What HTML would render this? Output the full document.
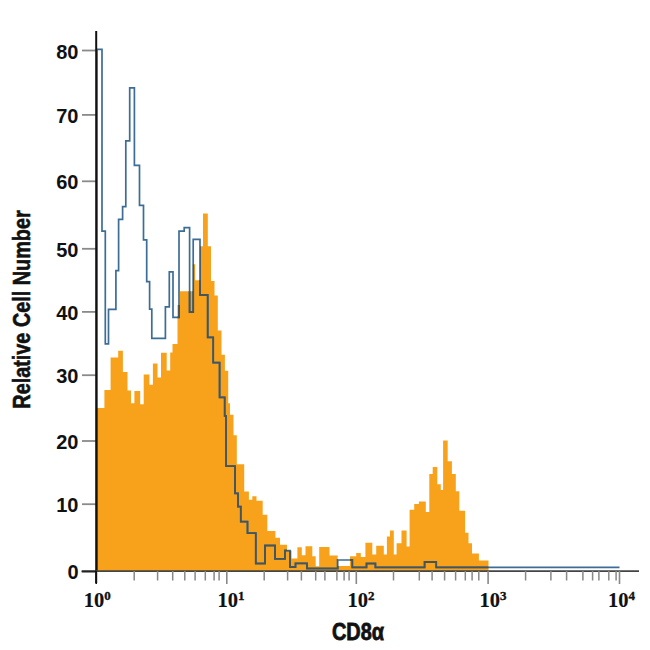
<!DOCTYPE html>
<html><head><meta charset="utf-8"><style>
html,body{margin:0;padding:0;background:#fff;}
svg{display:block;}
.yl{font-family:"Liberation Sans",sans-serif;font-weight:bold;font-size:20px;fill:#111;}
.xl{font-family:"Liberation Serif",serif;font-weight:bold;font-size:20.5px;fill:#111;stroke:#111;stroke-width:0.15px;}
.sup{font-size:13px;stroke-width:0.35px;}
.tt{font-family:"Liberation Sans",sans-serif;font-weight:bold;fill:#111;stroke:#111;stroke-width:0.6px;}
</style></head><body>
<svg width="650" height="650" viewBox="0 0 650 650">
<rect width="650" height="650" fill="#fff"/>
<path d="M96.5,571.0 L96.5,408.0 L104.4,408.0 L104.4,390.0 L110.6,390.0 L110.6,357.5 L118.2,357.5 L118.2,350.7 L122.9,350.7 L122.9,372.0 L127.5,372.0 L127.5,390.4 L131.0,390.4 L131.0,403.3 L134.4,403.3 L134.4,391.0 L140.2,391.0 L140.2,404.2 L143.7,404.2 L143.7,374.5 L149.4,374.5 L149.4,384.7 L152.9,384.7 L152.9,363.6 L157.5,363.6 L157.5,377.5 L161.0,377.5 L161.0,352.8 L166.7,352.8 L166.7,370.5 L170.2,370.5 L170.2,352.5 L172.5,352.5 L172.5,344.0 L177.5,344.0 L177.5,305.0 L180.0,305.0 L180.0,291.2 L192.9,291.2 L192.9,264.3 L195.2,264.3 L195.2,280.3 L200.2,280.3 L200.2,246.2 L203.0,246.2 L203.0,213.4 L207.8,213.4 L207.8,246.2 L211.0,246.2 L211.0,281.0 L214.5,281.0 L214.5,295.5 L217.8,295.5 L217.8,330.4 L221.5,330.4 L221.5,354.7 L224.9,354.7 L224.9,370.8 L228.2,370.8 L228.2,403.2 L230.0,403.2 L230.0,414.7 L233.5,414.7 L233.5,435.2 L236.8,435.2 L236.8,464.3 L244.2,464.3 L244.2,491.6 L248.9,491.6 L248.9,499.7 L252.3,499.7 L252.3,496.2 L256.5,496.2 L256.5,500.8 L262.7,500.8 L262.7,514.7 L267.3,514.7 L267.3,530.9 L275.4,530.9 L275.4,537.8 L280.0,537.8 L280.0,544.7 L287.0,544.7 L287.0,550.5 L291.6,550.5 L291.6,558.6 L297.4,558.6 L297.4,547.3 L301.8,547.3 L301.8,555.3 L305.5,555.3 L305.5,546.2 L312.3,546.2 L312.3,556.2 L315.7,556.2 L315.7,566.2 L319.2,566.2 L319.2,546.9 L329.5,546.9 L329.5,555.4 L337.7,555.4 L337.7,566.0 L350.0,566.0 L350.0,556.2 L356.2,556.2 L356.2,553.1 L360.8,553.1 L360.8,556.9 L365.4,556.9 L365.4,542.8 L372.3,542.8 L372.3,554.6 L376.2,554.6 L376.2,545.8 L383.8,545.8 L383.8,554.6 L386.9,554.6 L386.9,536.6 L390.0,536.6 L390.0,530.5 L393.8,530.5 L393.8,554.6 L396.6,554.6 L396.6,543.2 L401.5,543.2 L401.5,530.5 L406.6,530.5 L406.6,546.6 L409.6,546.6 L409.6,509.7 L414.2,509.7 L414.2,503.9 L418.9,503.9 L418.9,501.6 L425.8,501.6 L425.8,512.0 L429.3,512.0 L429.3,473.9 L432.7,473.9 L432.7,467.0 L437.3,467.0 L437.3,484.3 L440.8,484.3 L440.8,490.0 L443.1,490.0 L443.1,440.4 L447.7,440.4 L447.7,461.2 L451.9,461.2 L451.9,473.9 L455.8,473.9 L455.8,491.2 L459.3,491.2 L459.3,510.8 L465.1,510.8 L465.1,532.8 L468.5,532.8 L468.5,543.2 L472.0,543.2 L472.0,553.6 L478.9,553.6 L478.9,560.5 L488.5,560.5 L488.5,571.0 Z" fill="#F8A21C"/>
<defs><clipPath id="oc"><path d="M96.5,571.0 L96.5,408.0 L104.4,408.0 L104.4,390.0 L110.6,390.0 L110.6,357.5 L118.2,357.5 L118.2,350.7 L122.9,350.7 L122.9,372.0 L127.5,372.0 L127.5,390.4 L131.0,390.4 L131.0,403.3 L134.4,403.3 L134.4,391.0 L140.2,391.0 L140.2,404.2 L143.7,404.2 L143.7,374.5 L149.4,374.5 L149.4,384.7 L152.9,384.7 L152.9,363.6 L157.5,363.6 L157.5,377.5 L161.0,377.5 L161.0,352.8 L166.7,352.8 L166.7,370.5 L170.2,370.5 L170.2,352.5 L172.5,352.5 L172.5,344.0 L177.5,344.0 L177.5,305.0 L180.0,305.0 L180.0,291.2 L192.9,291.2 L192.9,264.3 L195.2,264.3 L195.2,280.3 L200.2,280.3 L200.2,246.2 L203.0,246.2 L203.0,213.4 L207.8,213.4 L207.8,246.2 L211.0,246.2 L211.0,281.0 L214.5,281.0 L214.5,295.5 L217.8,295.5 L217.8,330.4 L221.5,330.4 L221.5,354.7 L224.9,354.7 L224.9,370.8 L228.2,370.8 L228.2,403.2 L230.0,403.2 L230.0,414.7 L233.5,414.7 L233.5,435.2 L236.8,435.2 L236.8,464.3 L244.2,464.3 L244.2,491.6 L248.9,491.6 L248.9,499.7 L252.3,499.7 L252.3,496.2 L256.5,496.2 L256.5,500.8 L262.7,500.8 L262.7,514.7 L267.3,514.7 L267.3,530.9 L275.4,530.9 L275.4,537.8 L280.0,537.8 L280.0,544.7 L287.0,544.7 L287.0,550.5 L291.6,550.5 L291.6,558.6 L297.4,558.6 L297.4,547.3 L301.8,547.3 L301.8,555.3 L305.5,555.3 L305.5,546.2 L312.3,546.2 L312.3,556.2 L315.7,556.2 L315.7,566.2 L319.2,566.2 L319.2,546.9 L329.5,546.9 L329.5,555.4 L337.7,555.4 L337.7,566.0 L350.0,566.0 L350.0,556.2 L356.2,556.2 L356.2,553.1 L360.8,553.1 L360.8,556.9 L365.4,556.9 L365.4,542.8 L372.3,542.8 L372.3,554.6 L376.2,554.6 L376.2,545.8 L383.8,545.8 L383.8,554.6 L386.9,554.6 L386.9,536.6 L390.0,536.6 L390.0,530.5 L393.8,530.5 L393.8,554.6 L396.6,554.6 L396.6,543.2 L401.5,543.2 L401.5,530.5 L406.6,530.5 L406.6,546.6 L409.6,546.6 L409.6,509.7 L414.2,509.7 L414.2,503.9 L418.9,503.9 L418.9,501.6 L425.8,501.6 L425.8,512.0 L429.3,512.0 L429.3,473.9 L432.7,473.9 L432.7,467.0 L437.3,467.0 L437.3,484.3 L440.8,484.3 L440.8,490.0 L443.1,490.0 L443.1,440.4 L447.7,440.4 L447.7,461.2 L451.9,461.2 L451.9,473.9 L455.8,473.9 L455.8,491.2 L459.3,491.2 L459.3,510.8 L465.1,510.8 L465.1,532.8 L468.5,532.8 L468.5,543.2 L472.0,543.2 L472.0,553.6 L478.9,553.6 L478.9,560.5 L488.5,560.5 L488.5,571.0 Z"/></clipPath></defs>
<path d="M97.0,571.0 L97.0,49.4 L102.0,49.4 L102.0,231.2 L105.3,231.2 L105.3,343.8 L108.5,343.8 L108.5,309.4 L115.9,309.4 L115.9,270.6 L118.6,270.6 L118.6,219.3 L122.6,219.3 L122.6,206.6 L125.8,206.6 L125.8,140.8 L129.7,140.8 L129.7,87.8 L134.4,87.8 L134.4,165.4 L139.5,165.4 L139.5,205.4 L143.5,205.4 L143.5,239.8 L146.7,239.8 L146.7,281.7 L149.6,281.7 L149.6,309.1 L151.8,309.1 L151.8,338.3 L165.4,338.3 L165.4,306.9 L169.3,306.9 L169.3,271.8 L173.0,271.8 L173.0,317.4 L179.0,317.4 L179.0,231.2 L184.2,231.2 L184.2,227.7 L189.6,227.7 L189.6,312.0 L193.2,312.0 L193.2,239.3 L200.0,239.3 L200.0,295.0 L207.7,295.0 L207.7,337.3 L213.2,337.3 L213.2,362.7 L219.6,362.7 L219.6,397.4 L224.7,397.4 L224.7,415.9 L226.0,415.9 L226.0,466.2 L235.0,466.2 L235.0,493.4 L238.0,493.4 L238.0,506.6 L240.8,506.6 L240.8,521.6 L247.5,521.6 L247.5,533.2 L255.8,533.2 L255.8,563.5 L265.0,563.5 L265.0,545.5 L275.0,545.5 L275.0,558.8 L285.0,558.8 L285.0,550.5 L290.0,550.5 L290.0,567.0 L295.5,567.0 L295.5,563.3 L307.0,563.3 L307.0,568.5 L337.7,568.5 L337.7,560.0 L352.3,560.0 L352.3,567.4 L366.5,567.4 L366.5,563.5 L375.4,563.5 L375.4,567.4 L424.6,567.4 L424.6,562.0 L436.2,562.0 L436.2,567.4 L619.5,567.4" fill="none" stroke="#3d6d95" stroke-width="1.7"/>
<path d="M97.0,571.0 L97.0,49.4 L102.0,49.4 L102.0,231.2 L105.3,231.2 L105.3,343.8 L108.5,343.8 L108.5,309.4 L115.9,309.4 L115.9,270.6 L118.6,270.6 L118.6,219.3 L122.6,219.3 L122.6,206.6 L125.8,206.6 L125.8,140.8 L129.7,140.8 L129.7,87.8 L134.4,87.8 L134.4,165.4 L139.5,165.4 L139.5,205.4 L143.5,205.4 L143.5,239.8 L146.7,239.8 L146.7,281.7 L149.6,281.7 L149.6,309.1 L151.8,309.1 L151.8,338.3 L165.4,338.3 L165.4,306.9 L169.3,306.9 L169.3,271.8 L173.0,271.8 L173.0,317.4 L179.0,317.4 L179.0,231.2 L184.2,231.2 L184.2,227.7 L189.6,227.7 L189.6,312.0 L193.2,312.0 L193.2,239.3 L200.0,239.3 L200.0,295.0 L207.7,295.0 L207.7,337.3 L213.2,337.3 L213.2,362.7 L219.6,362.7 L219.6,397.4 L224.7,397.4 L224.7,415.9 L226.0,415.9 L226.0,466.2 L235.0,466.2 L235.0,493.4 L238.0,493.4 L238.0,506.6 L240.8,506.6 L240.8,521.6 L247.5,521.6 L247.5,533.2 L255.8,533.2 L255.8,563.5 L265.0,563.5 L265.0,545.5 L275.0,545.5 L275.0,558.8 L285.0,558.8 L285.0,550.5 L290.0,550.5 L290.0,567.0 L295.5,567.0 L295.5,563.3 L307.0,563.3 L307.0,568.5 L337.7,568.5 L337.7,560.0 L352.3,560.0 L352.3,567.4 L366.5,567.4 L366.5,563.5 L375.4,563.5 L375.4,567.4 L424.6,567.4 L424.6,562.0 L436.2,562.0 L436.2,567.4 L619.5,567.4" fill="none" stroke="#44555c" stroke-width="1.8" clip-path="url(#oc)"/>
<line x1="82" y1="50.5" x2="96" y2="50.5" stroke="#8a8a8a" stroke-width="1.8"/>
<line x1="82" y1="114.9" x2="96" y2="114.9" stroke="#8a8a8a" stroke-width="1.8"/>
<line x1="82" y1="181.3" x2="96" y2="181.3" stroke="#8a8a8a" stroke-width="1.8"/>
<line x1="82" y1="248.8" x2="96" y2="248.8" stroke="#8a8a8a" stroke-width="1.8"/>
<line x1="82" y1="311.9" x2="96" y2="311.9" stroke="#8a8a8a" stroke-width="1.8"/>
<line x1="82" y1="375.2" x2="96" y2="375.2" stroke="#8a8a8a" stroke-width="1.8"/>
<line x1="82" y1="441" x2="96" y2="441" stroke="#8a8a8a" stroke-width="1.8"/>
<line x1="82" y1="504.2" x2="96" y2="504.2" stroke="#8a8a8a" stroke-width="1.8"/>
<line x1="82" y1="571.4" x2="96" y2="571.4" stroke="#222" stroke-width="1.8"/>

<line x1="96.2" y1="31" x2="96.2" y2="583" stroke="#111" stroke-width="2"/>
<line x1="96" y1="571.2" x2="639" y2="571.2" stroke="#444" stroke-width="1.8"/>
<line x1="81.5" y1="571.4" x2="96" y2="571.4" stroke="#222" stroke-width="1.8"/>
<line x1="134.2" y1="571" x2="134.2" y2="580.5" stroke="#888" stroke-width="1.5"/>
<line x1="157.6" y1="571" x2="157.6" y2="580.5" stroke="#888" stroke-width="1.5"/>
<line x1="172.7" y1="571" x2="172.7" y2="580.5" stroke="#888" stroke-width="1.5"/>
<line x1="184.8" y1="571" x2="184.8" y2="580.5" stroke="#888" stroke-width="1.5"/>
<line x1="195.1" y1="571" x2="195.1" y2="580.5" stroke="#888" stroke-width="1.5"/>
<line x1="205.3" y1="571" x2="205.3" y2="580.5" stroke="#888" stroke-width="1.5"/>
<line x1="214.1" y1="571" x2="214.1" y2="580.5" stroke="#888" stroke-width="1.5"/>
<line x1="219.1" y1="571" x2="219.1" y2="580.5" stroke="#888" stroke-width="1.5"/>
<line x1="264.2" y1="571" x2="264.2" y2="580.5" stroke="#888" stroke-width="1.5"/>
<line x1="287.6" y1="571" x2="287.6" y2="580.5" stroke="#888" stroke-width="1.5"/>
<line x1="301.4" y1="571" x2="301.4" y2="580.5" stroke="#888" stroke-width="1.5"/>
<line x1="315.7" y1="571" x2="315.7" y2="580.5" stroke="#888" stroke-width="1.5"/>
<line x1="324.9" y1="571" x2="324.9" y2="580.5" stroke="#888" stroke-width="1.5"/>
<line x1="336.9" y1="571" x2="336.9" y2="580.5" stroke="#888" stroke-width="1.5"/>
<line x1="344.1" y1="571" x2="344.1" y2="580.5" stroke="#888" stroke-width="1.5"/>
<line x1="349.1" y1="571" x2="349.1" y2="580.5" stroke="#888" stroke-width="1.5"/>
<line x1="393.5" y1="571" x2="393.5" y2="580.5" stroke="#888" stroke-width="1.5"/>
<line x1="419.3" y1="571" x2="419.3" y2="580.5" stroke="#888" stroke-width="1.5"/>
<line x1="432.1" y1="571" x2="432.1" y2="580.5" stroke="#888" stroke-width="1.5"/>
<line x1="444.6" y1="571" x2="444.6" y2="580.5" stroke="#888" stroke-width="1.5"/>
<line x1="455.6" y1="571" x2="455.6" y2="580.5" stroke="#888" stroke-width="1.5"/>
<line x1="465.3" y1="571" x2="465.3" y2="580.5" stroke="#888" stroke-width="1.5"/>
<line x1="472.1" y1="571" x2="472.1" y2="580.5" stroke="#888" stroke-width="1.5"/>
<line x1="478.8" y1="571" x2="478.8" y2="580.5" stroke="#888" stroke-width="1.5"/>
<line x1="525.6" y1="571" x2="525.6" y2="580.5" stroke="#888" stroke-width="1.5"/>
<line x1="550.9" y1="571" x2="550.9" y2="580.5" stroke="#888" stroke-width="1.5"/>
<line x1="566.6" y1="571" x2="566.6" y2="580.5" stroke="#888" stroke-width="1.5"/>
<line x1="582.9" y1="571" x2="582.9" y2="580.5" stroke="#888" stroke-width="1.5"/>
<line x1="592.6" y1="571" x2="592.6" y2="580.5" stroke="#888" stroke-width="1.5"/>
<line x1="598.9" y1="571" x2="598.9" y2="580.5" stroke="#888" stroke-width="1.5"/>
<line x1="608.8" y1="571" x2="608.8" y2="580.5" stroke="#888" stroke-width="1.5"/>
<line x1="616.1" y1="571" x2="616.1" y2="580.5" stroke="#888" stroke-width="1.5"/>
<line x1="96.2" y1="571" x2="96.2" y2="584" stroke="#111" stroke-width="1.6"/>
<line x1="226.8" y1="571" x2="226.8" y2="584" stroke="#888" stroke-width="1.6"/>
<line x1="356.3" y1="571" x2="356.3" y2="584" stroke="#888" stroke-width="1.6"/>
<line x1="488.1" y1="571" x2="488.1" y2="584" stroke="#888" stroke-width="1.6"/>
<line x1="619.5" y1="571" x2="619.5" y2="584" stroke="#888" stroke-width="1.6"/>

<text x="78.5" y="58.5" text-anchor="end" class="yl">80</text>
<text x="78.5" y="122.9" text-anchor="end" class="yl">70</text>
<text x="78.5" y="189.3" text-anchor="end" class="yl">60</text>
<text x="78.5" y="256.8" text-anchor="end" class="yl">50</text>
<text x="78.5" y="319.9" text-anchor="end" class="yl">40</text>
<text x="78.5" y="383.2" text-anchor="end" class="yl">30</text>
<text x="78.5" y="449.0" text-anchor="end" class="yl">20</text>
<text x="78.5" y="512.2" text-anchor="end" class="yl">10</text>
<text x="78.5" y="579.4" text-anchor="end" class="yl">0</text>

<text x="83.7" y="606.7" class="xl">10<tspan class="sup" dy="-7.1">0</tspan></text>
<text x="217.5" y="606.7" class="xl">10<tspan class="sup" dy="-7.1">1</tspan></text>
<text x="347.5" y="606.7" class="xl">10<tspan class="sup" dy="-7.1">2</tspan></text>
<text x="479.4" y="606.7" class="xl">10<tspan class="sup" dy="-7.1">3</tspan></text>
<text x="608.0" y="606.7" class="xl">10<tspan class="sup" dy="-7.1">4</tspan></text>

<text class="tt" transform="translate(29.7,408.7) rotate(-90) scale(0.863,1)" x="0" y="0" font-size="23">Relative Cell Number</text>
<text class="tt" transform="translate(332,640.1) scale(0.865,1)" x="0" y="0" font-size="23" style="stroke-width:0.8px">CD8α</text>
</svg>
</body></html>
